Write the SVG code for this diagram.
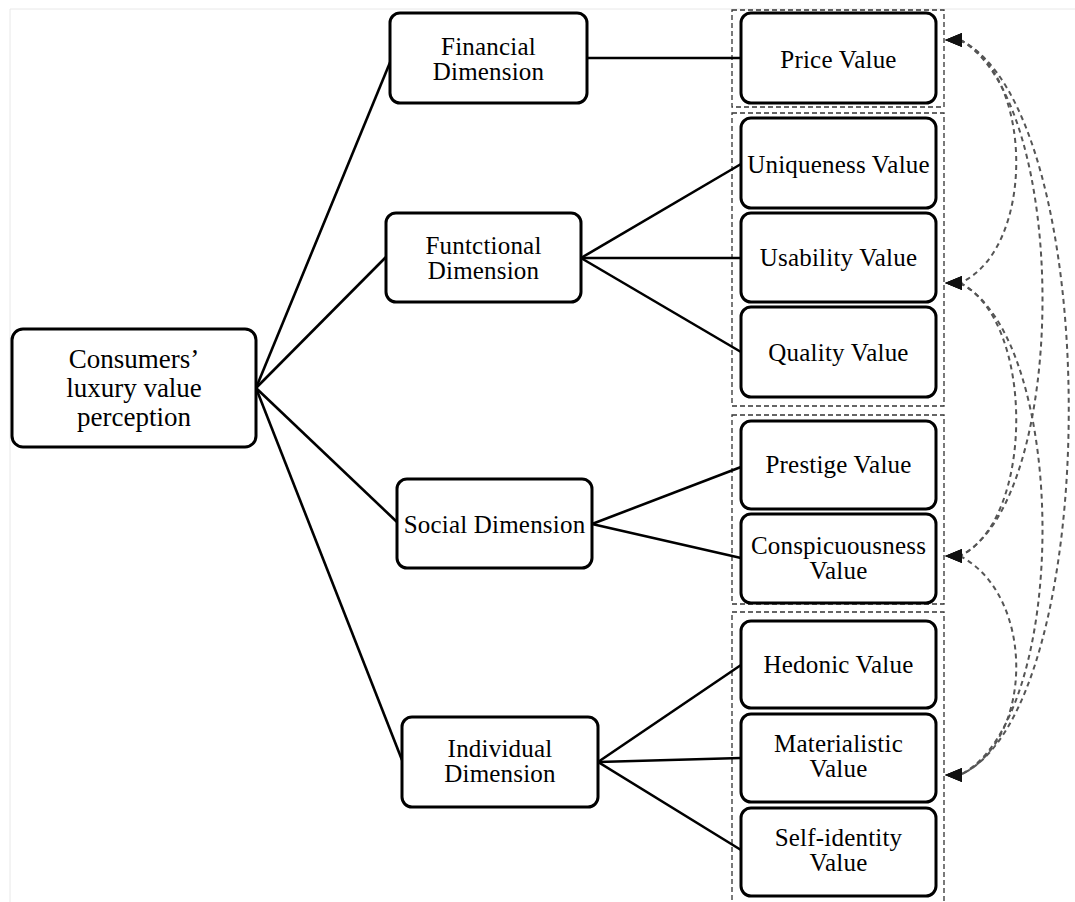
<svg xmlns="http://www.w3.org/2000/svg" width="1075" height="902" viewBox="0 0 1075 902">
<style>
.box{fill:#fff;stroke:#000;stroke-width:3}
.t{font-family:"Liberation Serif","Times New Roman",serif;font-size:25px;letter-spacing:0.2px;fill:#000;text-anchor:middle}
.root{font-size:27px;letter-spacing:0}
.ln{stroke:#000;stroke-width:2.6;fill:none}
.grp{fill:none;stroke:#333;stroke-width:1.3;stroke-dasharray:5 3}
.rel{fill:none;stroke:#555;stroke-width:2;stroke-dasharray:5 4;marker-start:url(#ah);marker-end:url(#ah)}
</style>
<defs>
<marker id="ah" markerWidth="20" markerHeight="16" refX="15" refY="7" orient="0" markerUnits="userSpaceOnUse">
<path d="M0,7 L17,0 L17,14 Z" fill="#111"/>
</marker>
</defs>
<path d="M10,902 V9 H1075" fill="none" stroke="#e8e8e8" stroke-width="1"/>

<g id="groups">
<rect class="grp" x="732" y="10" width="212" height="97"/>
<rect class="grp" x="732" y="113" width="212" height="293"/>
<rect class="grp" x="732" y="415" width="212" height="189"/>
<rect class="grp" x="732" y="612" width="212" height="300"/>
</g>

<g id="connectors">
<line class="ln" x1="256" y1="388" x2="391" y2="60"/>
<line class="ln" x1="256" y1="388" x2="386" y2="257"/>
<line class="ln" x1="256" y1="388" x2="397" y2="522"/>
<line class="ln" x1="256" y1="388" x2="402" y2="760"/>
<line class="ln" x1="587" y1="58" x2="741" y2="58"/>
<line class="ln" x1="581" y1="258" x2="741" y2="164"/>
<line class="ln" x1="581" y1="258" x2="741" y2="258"/>
<line class="ln" x1="581" y1="258" x2="741" y2="352"/>
<line class="ln" x1="592" y1="524" x2="741" y2="467"/>
<line class="ln" x1="592" y1="524" x2="741" y2="558"/>
<line class="ln" x1="598" y1="762" x2="741" y2="665"/>
<line class="ln" x1="598" y1="762" x2="741" y2="758"/>
<line class="ln" x1="598" y1="762" x2="741" y2="850"/>
<path class="rel" d="M960,40 C1035,75 1035,250 960,283"/>
<path class="rel" d="M960,283 C1035,320 1035,520 960,556"/>
<path class="rel" d="M960,556 C1035,595 1035,740 960,775"/>
<path class="rel" d="M960,40 C1070,100 1070,500 960,556"/>
<path class="rel" d="M960,283 C1070,340 1070,720 960,775"/>
<path class="rel" d="M960,40 C1105,110 1105,710 960,775"/>
</g>

<g id="root"><rect class="box" x="12" y="329" width="244" height="118" rx="11"/>
<text class="t root" x="134" y="368">Consumers’</text>
<text class="t root" x="134" y="397">luxury value</text>
<text class="t root" x="134" y="426">perception</text></g>

<g id="financial"><rect class="box" x="390" y="13" width="197" height="90" rx="10"/>
<text class="t" x="488.5" y="55">Financial</text><text class="t" x="488.5" y="80">Dimension</text></g>
<g id="functional"><rect class="box" x="386" y="213" width="195" height="89" rx="10"/>
<text class="t" x="483.5" y="254">Funtctional</text><text class="t" x="483.5" y="279">Dimension</text></g>
<g id="social"><rect class="box" x="397" y="479" width="195" height="89" rx="10"/>
<text class="t" x="494.5" y="533">Social Dimension</text></g>
<g id="individual"><rect class="box" x="402" y="717" width="196" height="90" rx="10"/>
<text class="t" x="500" y="757">Individual</text><text class="t" x="500" y="782">Dimension</text></g>

<g id="price"><rect class="box" x="741" y="13" width="195" height="90" rx="10"/>
<text class="t" x="838.5" y="68">Price Value</text></g>
<g id="uniqueness"><rect class="box" x="741" y="118" width="195" height="90" rx="10"/>
<text class="t" x="838.5" y="173">Uniqueness Value</text></g>
<g id="usability"><rect class="box" x="741" y="213" width="195" height="89" rx="10"/>
<text class="t" x="838.5" y="266">Usability Value</text></g>
<g id="quality"><rect class="box" x="741" y="307" width="195" height="90" rx="10"/>
<text class="t" x="838.5" y="361">Quality Value</text></g>
<g id="prestige"><rect class="box" x="741" y="421" width="195" height="88" rx="10"/>
<text class="t" x="838.5" y="473">Prestige Value</text></g>
<g id="conspicuousness"><rect class="box" x="741" y="514" width="195" height="89" rx="10"/>
<text class="t" x="838.5" y="554">Conspicuousness</text><text class="t" x="838.5" y="579">Value</text></g>
<g id="hedonic"><rect class="box" x="741" y="621" width="195" height="87" rx="10"/>
<text class="t" x="838.5" y="673">Hedonic Value</text></g>
<g id="materialistic"><rect class="box" x="741" y="714" width="195" height="88" rx="10"/>
<text class="t" x="838.5" y="752">Materialistic</text><text class="t" x="838.5" y="777">Value</text></g>
<g id="selfidentity"><rect class="box" x="741" y="808" width="195" height="88" rx="10"/>
<text class="t" x="838.5" y="846">Self-identity</text><text class="t" x="838.5" y="871">Value</text></g>
</svg>
